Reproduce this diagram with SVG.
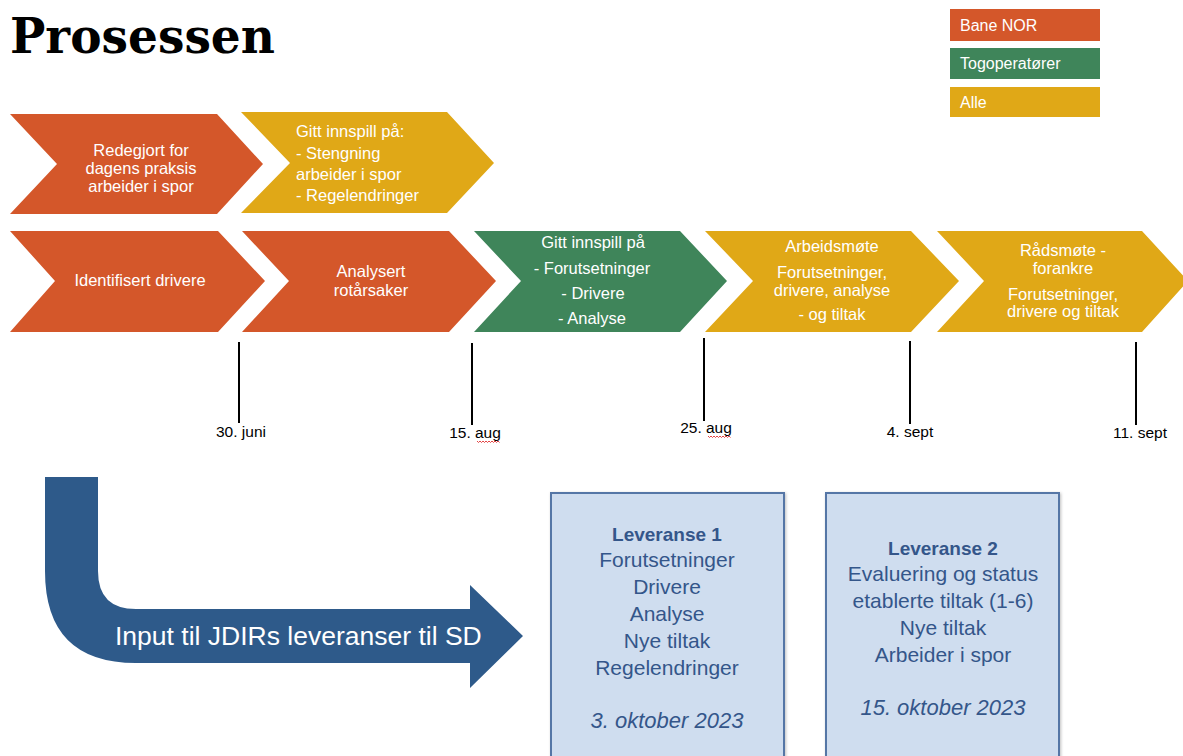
<svg xmlns="http://www.w3.org/2000/svg" width="1183" height="756" viewBox="0 0 1183 756">
  <defs>
    <style>
      .orange { fill: #D4572A; }
      .yellow { fill: #E0A817; }
      .green { fill: #3F855A; }
      .ctext { font-family: "Liberation Sans", Arial, sans-serif; font-size: 16.5px; fill: #ffffff; }
      .mid { text-anchor: middle; }
      .date { font-family: "Liberation Sans", Arial, sans-serif; font-size: 15.5px; fill: #000000; text-anchor: middle; }
      .tick { stroke: #000000; stroke-width: 2; }
      .legend { font-family: "Liberation Sans", Arial, sans-serif; font-size: 16px; fill: #ffffff; }
      .box { fill: #CFDDEF; stroke: #5476A6; stroke-width: 2; }
      .btext { font-family: "Liberation Sans", Arial, sans-serif; font-size: 21px; fill: #34568A; text-anchor: middle; }
      .head { font-weight: bold; font-size: 19px; }
      .when { font-style: italic; font-size: 22px; }
      .squiggle { fill: none; stroke: #E03030; stroke-width: 0.9; }
    </style>
    <filter id="shadow" x="-10%" y="-10%" width="120%" height="120%">
      <feDropShadow dx="1" dy="1" stdDeviation="1.5" flood-color="#000000" flood-opacity="0.25"/>
    </filter>
  </defs>

  <rect width="1183" height="756" fill="#ffffff"/>

  <!-- Title -->
  <text x="10" y="53" font-family="'DejaVu Serif', 'Liberation Serif', serif" font-weight="bold" font-size="48" textLength="265" lengthAdjust="spacingAndGlyphs" fill="#000000">Prosessen</text>

  <!-- Legend -->
  <g id="legend">
    <rect class="orange" x="950" y="9" width="150" height="32"/>
    <text class="legend" x="960" y="31">Bane NOR</text>
    <rect class="green" x="950" y="48" width="150" height="31"/>
    <text class="legend" x="960" y="69">Togoperatører</text>
    <rect class="yellow" x="950" y="87" width="150" height="30"/>
    <text class="legend" x="960" y="108">Alle</text>
  </g>

  <!-- Upper row of chevrons -->
  <g id="redegjort">
    <polygon class="orange" points="10,114 217,114 263,164 217,214 10,214 57,164"/>
    <text class="ctext mid" x="141" y="156">Redegjort for</text>
    <text class="ctext mid" x="141" y="174">dagens praksis</text>
    <text class="ctext mid" x="141" y="192">arbeider i spor</text>
  </g>
  <g id="innspill-stengning">
    <polygon class="yellow" points="241,112 447,112 494,163 447,213 241,213 290,163"/>
    <text class="ctext" x="296" y="137">Gitt innspill på:</text>
    <text class="ctext" x="296" y="159">- Stengning</text>
    <text class="ctext" x="296" y="180">arbeider i spor</text>
    <text class="ctext" x="296" y="201">- Regelendringer</text>
  </g>

  <!-- Lower row of chevrons -->
  <g id="identifisert">
    <polygon class="orange" points="10,231 218,231 265,281 218,332 10,332 55,281"/>
    <text class="ctext mid" x="140" y="286">Identifisert drivere</text>
  </g>
  <g id="analysert">
    <polygon class="orange" points="242,231 449,231 496,281 449,332 242,332 289,281"/>
    <text class="ctext mid" x="371" y="277">Analysert</text>
    <text class="ctext mid" x="371" y="296">rotårsaker</text>
  </g>
  <g id="innspill-forutsetninger">
    <polygon class="green" points="474,231 680,231 727,281 680,332 474,332 521,281"/>
    <text class="ctext mid" x="593" y="248">Gitt innspill på</text>
    <text class="ctext mid" x="592" y="274">- Forutsetninger</text>
    <text class="ctext mid" x="593" y="299">- Drivere</text>
    <text class="ctext mid" x="592" y="324">- Analyse</text>
  </g>
  <g id="arbeidsmote">
    <polygon class="yellow" points="705,231 911,231 959,281 911,332 705,332 753,281"/>
    <text class="ctext mid" x="832" y="252">Arbeidsmøte</text>
    <text class="ctext mid" x="832" y="278">Forutsetninger,</text>
    <text class="ctext mid" x="832" y="296">drivere, analyse</text>
    <text class="ctext mid" x="832" y="320">- og tiltak</text>
  </g>
  <g id="radsmote">
    <polygon class="yellow" points="937,231 1142,231 1188,281 1142,332 937,332 984,281"/>
    <text class="ctext mid" x="1063" y="256">Rådsmøte -</text>
    <text class="ctext mid" x="1063" y="274">forankre</text>
    <text class="ctext mid" x="1063" y="300">Forutsetninger,</text>
    <text class="ctext mid" x="1063" y="317">drivere og tiltak</text>
  </g>

  <!-- Timeline ticks and dates -->
  <g id="timeline">
    <line class="tick" x1="239" y1="342" x2="239" y2="423"/>
    <line class="tick" x1="472" y1="343" x2="472" y2="425"/>
    <line class="tick" x1="704" y1="338" x2="704" y2="421"/>
    <line class="tick" x1="910" y1="341" x2="910" y2="424"/>
    <line class="tick" x1="1136" y1="342" x2="1136" y2="425"/>
    <text class="date" x="241" y="437">30. juni</text>
    <text class="date" x="475" y="438">15. aug</text>
    <text class="date" x="706" y="433">25. aug</text>
    <text class="date" x="910" y="437">4. sept</text>
    <text class="date" x="1140" y="438">11. sept</text>
    <path class="squiggle" d="M477,441 l1.5,1.5 l1.5,-1.5 l1.5,1.5 l1.5,-1.5 l1.5,1.5 l1.5,-1.5 l1.5,1.5 l1.5,-1.5 l1.5,1.5 l1.5,-1.5 l1.5,1.5 l1.5,-1.5 l1.5,1.5 l1.5,-1.5 l1.5,1.5"/>
    <path class="squiggle" d="M708,436 l1.5,1.5 l1.5,-1.5 l1.5,1.5 l1.5,-1.5 l1.5,1.5 l1.5,-1.5 l1.5,1.5 l1.5,-1.5 l1.5,1.5 l1.5,-1.5 l1.5,1.5 l1.5,-1.5 l1.5,1.5 l1.5,-1.5 l1.5,1.5"/>
  </g>

  <!-- Bent arrow feeding the deliverables -->
  <g id="input-arrow">
    <path fill="#2E5A8A" d="M45,477 L98,477 L98,571 Q98,609 136,609 L470,609 L470,585 L523,636 L470,688 L470,663 L136,663 Q45,663 45,571 Z"/>
    <text x="115" y="645" font-family="'Liberation Sans', Arial, sans-serif" font-size="26.5" fill="#ffffff">Input til JDIRs leveranser til SD</text>
  </g>

  <!-- Deliverables -->
  <g id="leveranse-1">
    <rect class="box" x="551" y="493" width="233" height="275" filter="url(#shadow)"/>
    <text class="btext head" x="667" y="541">Leveranse 1</text>
    <text class="btext" x="667" y="567">Forutsetninger</text>
    <text class="btext" x="667" y="594">Drivere</text>
    <text class="btext" x="667" y="621">Analyse</text>
    <text class="btext" x="667" y="648">Nye tiltak</text>
    <text class="btext" x="667" y="675">Regelendringer</text>
    <text class="btext when" x="667" y="728">3. oktober 2023</text>
  </g>
  <g id="leveranse-2">
    <rect class="box" x="826" y="493" width="233" height="275" filter="url(#shadow)"/>
    <text class="btext head" x="943" y="555">Leveranse 2</text>
    <text class="btext" x="943" y="581">Evaluering og status</text>
    <text class="btext" x="943" y="608">etablerte tiltak (1-6)</text>
    <text class="btext" x="943" y="635">Nye tiltak</text>
    <text class="btext" x="943" y="662">Arbeider i spor</text>
    <text class="btext when" x="943" y="715">15. oktober 2023</text>
  </g>
</svg>
